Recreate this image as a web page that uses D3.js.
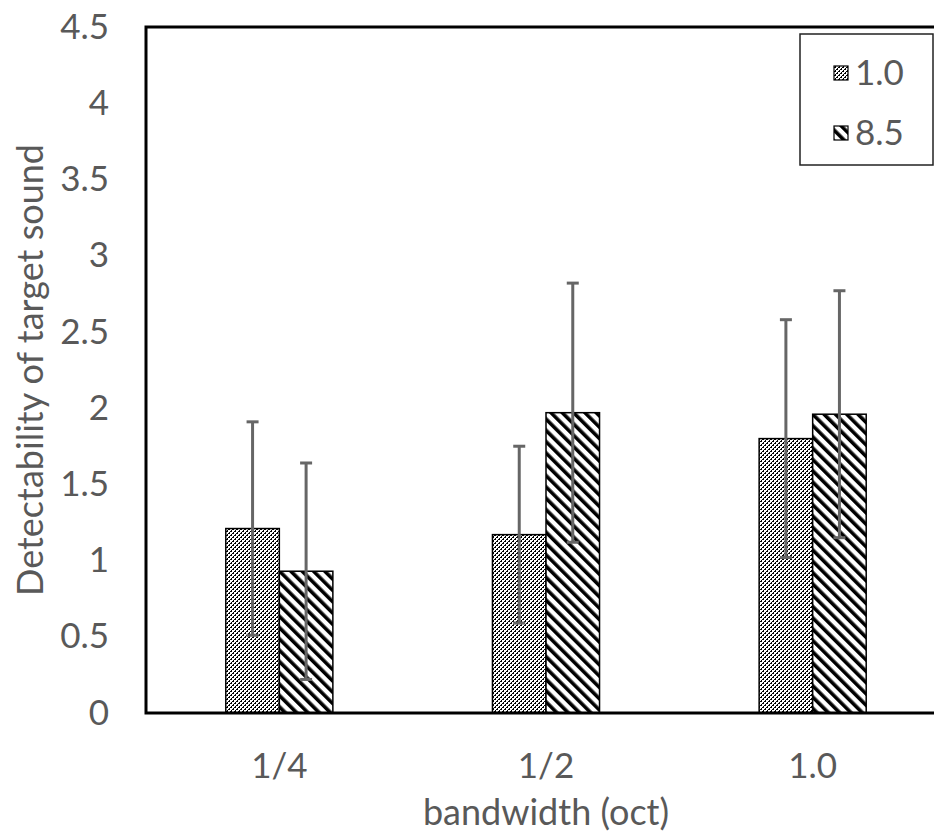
<!DOCTYPE html>
<html><head><meta charset="utf-8">
<script src="https://cdn.jsdelivr.net/npm/d3@7"></script>
<style>body{margin:0;background:#fff}svg{display:block}</style>
</head><body><svg id="c" width="934" height="840"></svg>
<script>
const categories = ["1/4", "1/2", "1.0"];
const seriesNames = ["1.0", "8.5"];
const values10 = [1.21, 1.17, 1.80];
const values85 = [0.93, 1.97, 1.96];
const err10 = [0.70, 0.58, 0.78];
const err85 = [0.71, 0.85, 0.81];
const yTicks = [0, 0.5, 1, 1.5, 2, 2.5, 3, 3.5, 4, 4.5];

const svg = d3.select("#c");
const L = 146, R = 946, T = 27, B = 713;
const font = "Lato, 'Open Sans', sans-serif";
const txt = "#595959";
const fs = 35;

const defs = svg.append("defs");
const p1 = defs.append("pattern").attr("id","pat0").attr("patternUnits","userSpaceOnUse").attr("width",4).attr("height",4);
p1.append("rect").attr("width",4).attr("height",4).attr("fill","#fff");
p1.append("rect").attr("x",0).attr("y",0).attr("width",2).attr("height",2).attr("fill","#000");
p1.append("rect").attr("x",2).attr("y",2).attr("width",2).attr("height",2).attr("fill","#000");
p1.append("rect").attr("x",0).attr("y",0).attr("width",1).attr("height",1).attr("fill","#fff");
p1.append("rect").attr("x",2).attr("y",2).attr("width",1).attr("height",1).attr("fill","#fff");
const p2 = defs.append("pattern").attr("id","pat1").attr("patternUnits","userSpaceOnUse").attr("width",8).attr("height",8).attr("patternTransform","rotate(-45)");
p2.append("rect").attr("width",8).attr("height",8).attr("fill","#fff");
p2.append("rect").attr("x",0).attr("width",3.6).attr("height",8).attr("fill","#000");

const y = d3.scaleLinear().domain([0, 4.5]).range([B, T]);
const pi = 0.5985;
const x0 = d3.scaleBand().domain(categories).range([L, R]).paddingInner(pi).paddingOuter(pi/2);
const x1 = d3.scaleBand().domain(seriesNames).range([0, x0.bandwidth()]);

const data = categories.map((c,i)=>[
  {cat:c, s:seriesNames[0], v:values10[i], e:err10[i]},
  {cat:c, s:seriesNames[1], v:values85[i], e:err85[i]}
]).flat();

// bars
svg.append("g").selectAll("rect").data(data).join("rect")
  .attr("x", d=>x0(d.cat)+x1(d.s))
  .attr("y", d=>y(d.v))
  .attr("width", x1.bandwidth())
  .attr("height", d=>B - y(d.v))
  .attr("fill", d=>d.s===seriesNames[0] ? "url(#pat0)" : "url(#pat1)")
  .attr("stroke","#000").attr("stroke-width",1.5);

// error bars
const eg = svg.append("g").attr("stroke","#666").attr("stroke-width",3);
data.forEach(d=>{
  const cx = x0(d.cat)+x1(d.s)+x1.bandwidth()/2;
  eg.append("line").attr("x1",cx).attr("x2",cx).attr("y1",y(d.v+d.e)).attr("y2",y(d.v-d.e));
  eg.append("line").attr("x1",cx-6).attr("x2",cx+6).attr("y1",y(d.v+d.e)).attr("y2",y(d.v+d.e));
  eg.append("line").attr("x1",cx-6).attr("x2",cx+6).attr("y1",y(d.v-d.e)).attr("y2",y(d.v-d.e));
});

// plot border
svg.append("rect").attr("x",L).attr("y",T).attr("width",R-L).attr("height",B-T)
  .attr("fill","none").attr("stroke","#000").attr("stroke-width",3);

// y axis
const ya = svg.append("g").attr("transform",`translate(${L},0)`)
  .call(d3.axisLeft(y).tickValues(yTicks).tickSize(0).tickPadding(37).tickFormat(d=>String(d)));
ya.select(".domain").remove();
ya.selectAll("text").attr("font-family",font).attr("font-size",fs).attr("fill",txt);

// x axis
const xa = svg.append("g").attr("transform",`translate(0,${B})`)
  .call(d3.axisBottom(x0).tickSize(0).tickPadding(40));
xa.select(".domain").remove();
xa.selectAll("text").attr("font-family",font).attr("font-size",fs).attr("fill",txt);

// titles
svg.append("text").attr("x",(L+R)/2 - 0).attr("y",812).attr("dy","0.35em").attr("text-anchor","middle")
  .attr("font-family",font).attr("font-size",fs+1).attr("fill",txt).text("bandwidth (oct)");
svg.append("text").attr("transform",`translate(30,${(T+B)/2}) rotate(-90)`).attr("dy","0.35em").attr("text-anchor","middle")
  .attr("font-family",font).attr("font-size",fs+1).attr("fill",txt).text("Detectability of target sound");

// legend
const lg = svg.append("g");
lg.append("rect").attr("x",800).attr("y",34).attr("width",133).attr("height",131)
  .attr("fill","#fff").attr("stroke","#222").attr("stroke-width",1.5);
seriesNames.forEach((s,i)=>{
  const yy = 66 + i*60;
  lg.append("rect").attr("x",834).attr("y",yy).attr("width",14).attr("height",14)
    .attr("fill", i===0?"url(#pat0)":"url(#pat1)").attr("stroke","#000").attr("stroke-width",1.2);
  lg.append("text").attr("x",855).attr("y",yy+7).attr("dy","0.35em")
    .attr("font-family",font).attr("font-size",fs).attr("fill",txt).text(s);
});
</script></body></html>
